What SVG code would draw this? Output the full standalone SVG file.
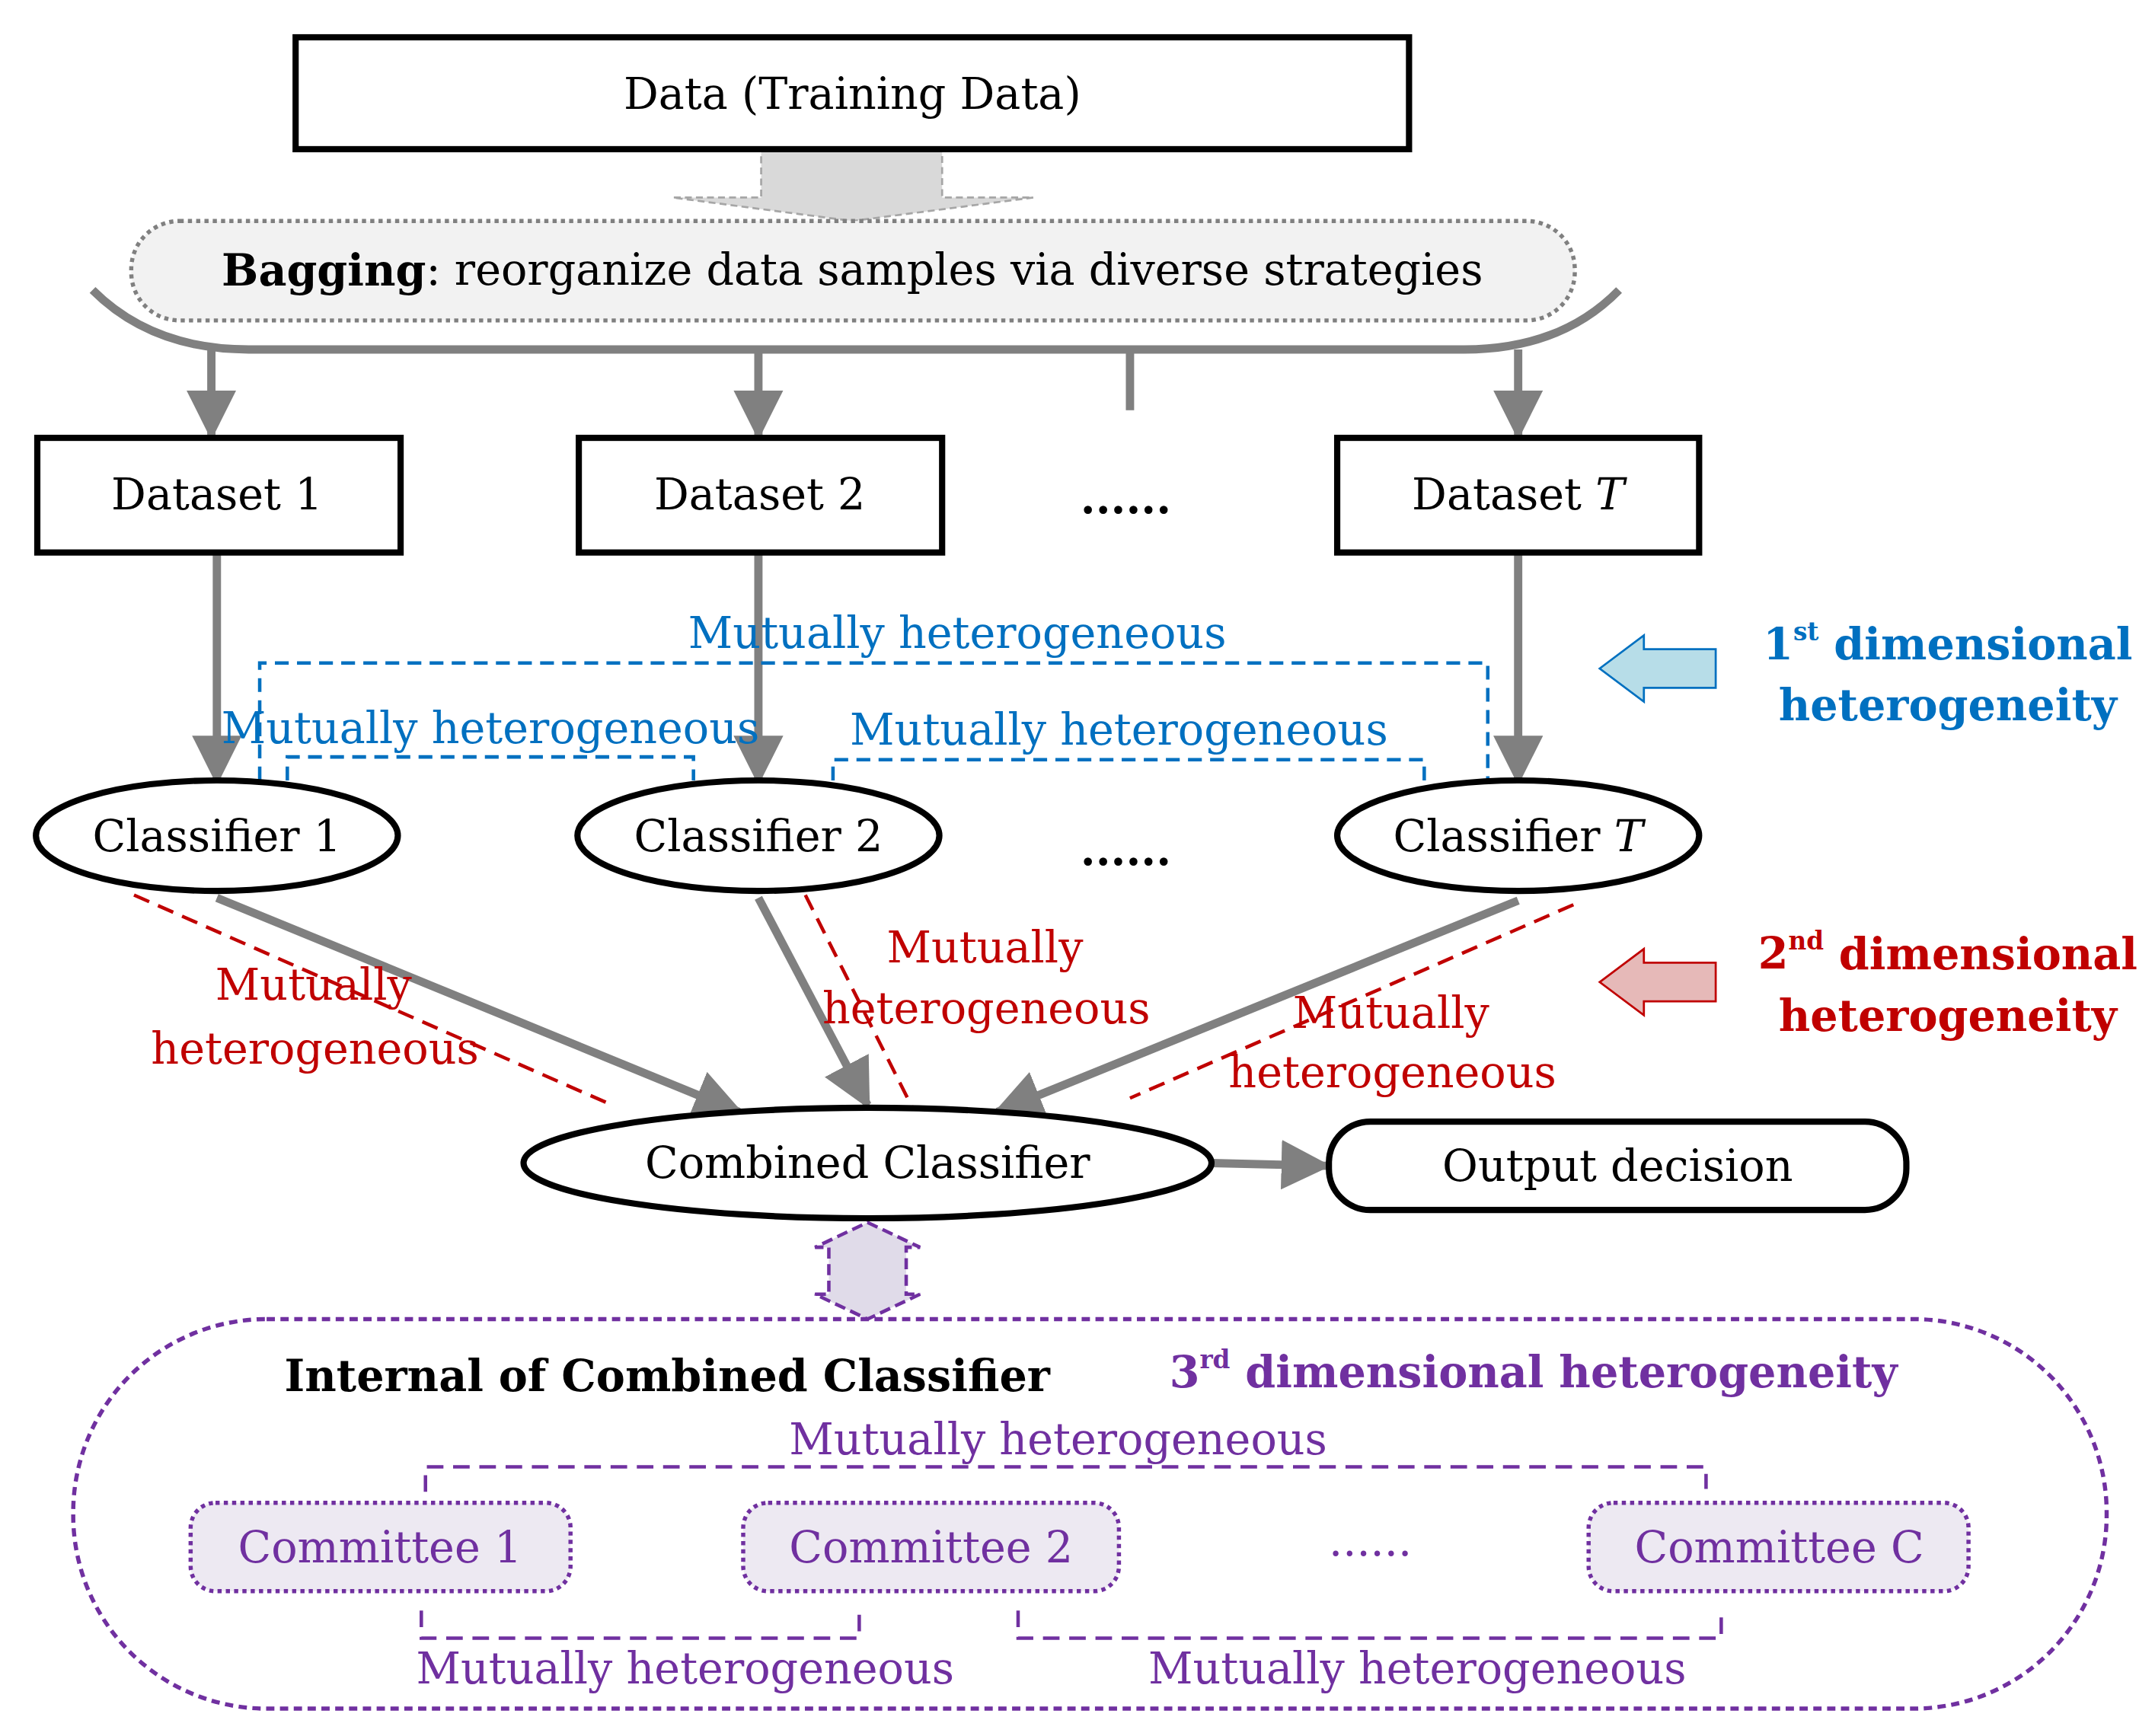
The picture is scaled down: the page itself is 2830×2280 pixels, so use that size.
<svg xmlns="http://www.w3.org/2000/svg" width="2830" height="2280" viewBox="0 0 2830 2280">
<style>
text{font-family:"DejaVu Serif","Liberation Serif",serif;font-size:31.5px;text-anchor:middle;dominant-baseline:central}
.box{fill:#fff;stroke:#000;stroke-width:4.5}
.g{stroke:#808080;stroke-width:6;fill:none}
.blue{fill:#0070C0}.bl{stroke:#0070C0;stroke-width:2.5;fill:none;stroke-dasharray:10 6}
.red{fill:#C00000}.rl{stroke:#C00000;stroke-width:2.5;fill:none;stroke-dasharray:12 7}
.pur{fill:#7030A0}.pl{stroke:#7030A0;stroke-width:2.5;fill:none;stroke-dasharray:12 7}
.b{font-weight:bold}
</style>
<defs>
<marker id="ah" viewBox="0 0 10 10" refX="9" refY="5" markerWidth="6" markerHeight="6" orient="auto" markerUnits="strokeWidth"><path d="M0,0L10,5L0,10z" fill="#808080"/></marker>
</defs>
<rect width="2830" height="2280" fill="#fff"/>
<g transform="scale(1.8141)">
<g id="connectors">
<path d="M551,108H682V143H748L617,160L487,143H551Z" fill="#d9d9d9" stroke="#a6a6a6" stroke-width="1.5" stroke-dasharray="5 3"/>
<path class="g" d="M67,210Q110,253 180,253H1060Q1130,253 1172,210"/>
<line class="g" x1="153" y1="253" x2="153" y2="315" marker-end="url(#ah)"/>
<line class="g" x1="549" y1="253" x2="549" y2="315" marker-end="url(#ah)"/>
<line class="g" x1="1099" y1="253" x2="1099" y2="315" marker-end="url(#ah)"/>
<line class="g" x1="818" y1="253" x2="818" y2="297"/>
<line class="g" x1="157" y1="400" x2="157" y2="565" marker-end="url(#ah)"/>
<line class="g" x1="549" y1="400" x2="549" y2="565" marker-end="url(#ah)"/>
<line class="g" x1="1099" y1="400" x2="1099" y2="565" marker-end="url(#ah)"/>
<line class="g" x1="157" y1="650" x2="535" y2="805" marker-end="url(#ah)"/>
<line class="g" x1="549" y1="650" x2="628" y2="800" marker-end="url(#ah)"/>
<line class="g" x1="1099" y1="652" x2="722" y2="805" marker-end="url(#ah)"/>
<line class="g" x1="877" y1="842" x2="960" y2="844" marker-end="url(#ah)"/>
<path class="bl" d="M188,565V480H1077V565"/>
<path class="bl" d="M208,565V548H502V565"/>
<path class="bl" d="M603,565V550H1031V565"/>
<line class="rl" x1="97" y1="648" x2="443" y2="800"/>
<line class="rl" x1="583" y1="648" x2="662" y2="805"/>
<line class="rl" x1="1139" y1="655" x2="818" y2="795"/>
<path d="M628,885L666,903H656V937H666L628,955L590,937H600V903H590Z" fill="#e0dbe9" stroke="#7030A0" stroke-width="2.5" stroke-dasharray="8 4"/>
<path class="pl" d="M308,1080V1062H1235V1078"/>
<path class="pl" d="M305,1166V1186H622V1166"/>
<path class="pl" d="M737,1166V1186H1246V1166"/>
</g>
<g id="data"><rect class="box" x="214" y="27" width="806" height="81"/><text x="617" y="68">Data (Training Data)</text></g>
<g id="bagging"><rect x="95" y="160" width="1045" height="72" rx="35" fill="#f2f2f2" stroke="#808080" stroke-width="3" stroke-dasharray="3 3"/><text x="617" y="195"><tspan class="b">Bagging</tspan>: reorganize data samples via diverse strategies</text></g>
<g id="ds1"><rect class="box" x="27" y="317" width="263" height="83"/><text x="157" y="358">Dataset 1</text></g>
<g id="ds2"><rect class="box" x="419" y="317" width="263" height="83"/><text x="550" y="358">Dataset 2</text></g>
<g id="dsT"><rect class="box" x="968" y="317" width="262" height="83"/><text x="1099" y="358">Dataset <tspan font-style="italic">T</tspan></text></g>
<text x="815" y="360" class="b">......</text>
<g id="c1"><ellipse class="box" cx="157" cy="605" rx="131" ry="40"/><text x="157" y="605">Classifier 1</text></g>
<g id="c2"><ellipse class="box" cx="549" cy="605" rx="131" ry="40"/><text x="549" y="605">Classifier 2</text></g>
<g id="cT"><ellipse class="box" cx="1099" cy="605" rx="131" ry="40"/><text x="1099" y="605">Classifier <tspan font-style="italic">T</tspan></text></g>
<text x="815" y="615" class="b">......</text>
<g id="blue-labels">
<text class="blue" x="693" y="458">Mutually heterogeneous</text>
<text class="blue" x="355" y="527">Mutually heterogeneous</text>
<text class="blue" x="810" y="528">Mutually heterogeneous</text>
<path d="M1158,484L1190,460V470H1242V498H1190V508Z" fill="#b7dde8" stroke="#0070C0" stroke-width="1.5"/>
<text class="blue b" x="1410" y="466">1<tspan font-size="18" dy="-9">st</tspan><tspan dy="9"> dimensional</tspan></text>
<text class="blue b" x="1410" y="510">heterogeneity</text>
</g>
<g id="red-labels">
<text class="red" x="227" y="713">Mutually</text><text class="red" x="228" y="759">heterogeneous</text>
<text class="red" x="713" y="686">Mutually</text><text class="red" x="714" y="730">heterogeneous</text>
<text class="red" x="1007" y="733">Mutually</text><text class="red" x="1008" y="776">heterogeneous</text>
<path d="M1158,711L1190,687V697H1242V725H1190V735Z" fill="#e6b9b8" stroke="#C00000" stroke-width="1.5"/>
<text class="red b" x="1410" y="690">2<tspan font-size="18" dy="-9">nd</tspan><tspan dy="9"> dimensional</tspan></text>
<text class="red b" x="1410" y="735">heterogeneity</text>
</g>
<g id="combined"><ellipse class="box" cx="628" cy="842" rx="249" ry="40"/><text x="628" y="842">Combined Classifier</text></g>
<g id="output"><rect class="box" x="962" y="812" width="418" height="64" rx="30"/><text x="1171" y="844">Output decision</text></g>
<g id="internal">
<rect x="53" y="955" width="1472" height="282" rx="140" fill="none" stroke="#7030A0" stroke-width="3" stroke-dasharray="6 4"/>
<text x="483" y="996" class="b">Internal of Combined Classifier</text>
<text x="1110" y="993" class="pur b">3<tspan font-size="18" dy="-9">rd</tspan><tspan dy="9"> dimensional heterogeneity</tspan></text>
<text class="pur" x="766" y="1042">Mutually heterogeneous</text>
<text class="pur" x="496" y="1208">Mutually heterogeneous</text>
<text class="pur" x="1026" y="1208">Mutually heterogeneous</text>
<text class="pur" x="992" y="1115">......</text>
</g>
<g id="com1"><rect x="138" y="1088" width="275" height="64" rx="18" fill="#ede9f2" stroke="#7030A0" stroke-width="3" stroke-dasharray="3 3"/><text class="pur" x="275" y="1120">Committee 1</text></g>
<g id="com2"><rect x="538" y="1088" width="272" height="64" rx="18" fill="#ede9f2" stroke="#7030A0" stroke-width="3" stroke-dasharray="3 3"/><text class="pur" x="674" y="1120">Committee 2</text></g>
<g id="comC"><rect x="1150" y="1088" width="275" height="64" rx="18" fill="#ede9f2" stroke="#7030A0" stroke-width="3" stroke-dasharray="3 3"/><text class="pur" x="1288" y="1120">Committee C</text></g>
</g>
</svg>
